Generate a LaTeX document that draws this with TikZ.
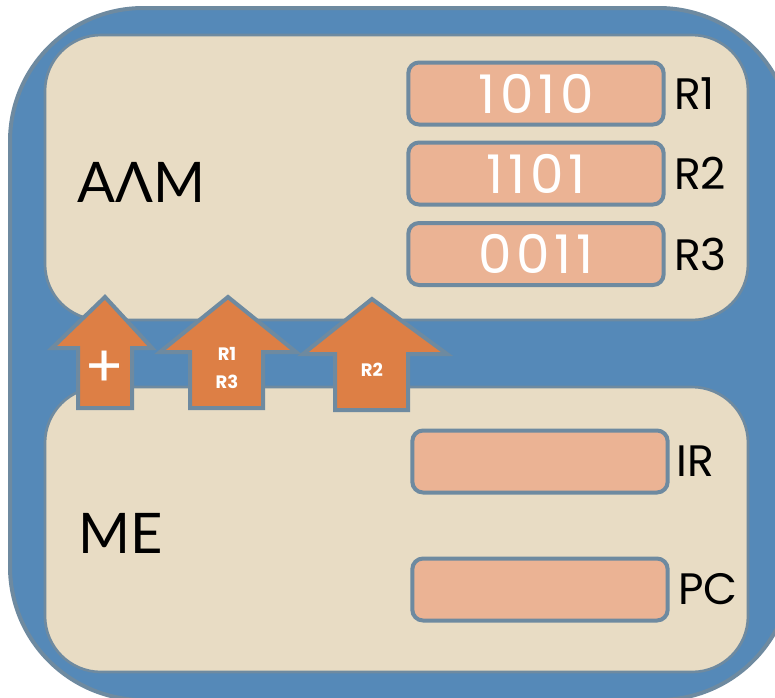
\documentclass[tikz,border=0pt]{standalone}
\usepackage{fontspec}
\setmainfont{Poppins}
\newfontfamily\greekfont{Lato}
\newfontfamily\digitfont[LetterSpace=9]{Poppins}
\usetikzlibrary{positioning}

\definecolor{outerblue}{RGB}{85,137,184}
\definecolor{edgegray}{RGB}{110,138,160}
\definecolor{panelfill}{RGB}{232,220,196}
\definecolor{regfill}{RGB}{235,179,148}
\definecolor{arrowfill}{RGB}{221,127,69}

\tikzset{every picture/.style={line width=0.75pt}}
\tikzset{
  panel/.style={draw=edgegray, fill=panelfill, line width=2, rounded corners=42},
  regbox/.style={draw=edgegray, fill=regfill, line width=3, rounded corners=8,
    minimum width=191.5pt, minimum height=46.5pt, inner sep=0pt, text=white,
    font=\digitfont\fontsize{40}{45}\selectfont},
  reglabel/.style={anchor=west, inner sep=0pt, font=\fontsize{33}{37}\selectfont},
  unitlabel/.style={anchor=west, inner sep=0pt, font=\greekfont\fontsize{42}{46}\selectfont},
  busarrow/.style={draw=edgegray, fill=arrowfill, line width=3, line join=miter},
  arrowtext/.style={text=white, inner sep=0pt, align=center,
    font=\bfseries\fontsize{13.5}{21}\selectfont}
}

\begin{document}
\begin{tikzpicture}[x=0.75pt,y=0.75pt,yscale=-1,xscale=1]
\useasboundingbox (0,0) rectangle (775,697);

%Outer frame
\draw [draw=edgegray, fill=outerblue, line width=3, rounded corners=100] (10,8) rectangle (792,700);

%Upper panel
\draw [panel] (45,35) rectangle (748,320);
%Lower panel
\draw [panel] (45,387) rectangle (748,672);

% Unit names
\node [unitlabel] (alu) at (77,182) {AΛM};
\node [unitlabel] (cu) at (78,533) {ME};

% Registers of the ALU
\node [regbox] (r1) at (536,93.5) {1010};
\node [regbox] (r2) at (536,173.5) {1101};
\node [regbox] (r3) at (536,254) {0011};
\node [reglabel, right=6pt of r1] (r1name) {R1};
\node [reglabel, right=6pt of r2] (r2name) {R2};
\node [reglabel, right=6pt of r3] (r3name) {R3};

% Registers of the control unit
\node [regbox] (ir) at (540,461.5) {};
\node [regbox] (pc) at (540,589.5) {};
\node [reglabel, right=5pt of ir] (irname) {IR};
\node [reglabel, right=6pt of pc] (pcname) {PC};

%Arrows
\draw [busarrow] (78,408) -- (78,348) -- (52,348) -- (105,297) -- (152,348) -- (132,348) -- (132,408) -- cycle;
\draw [busarrow] (190,408) -- (190,352) -- (160,352) -- (228,297) -- (296,352) -- (263,352) -- (263,408) -- cycle;
\draw [busarrow] (335,410) -- (335,354) -- (303,354) -- (372,299) -- (447,354) -- (408,354) -- (408,410) -- cycle;

% Arrow Text
\node [arrowtext, font=\fontsize{44}{44}\selectfont] (plus) at (105,369) {+};
\node [arrowtext] (r13) at (227,368) {R1\\R3};
\node [arrowtext] (r2bus) at (372,370) {R2};
\end{tikzpicture}
\end{document}
